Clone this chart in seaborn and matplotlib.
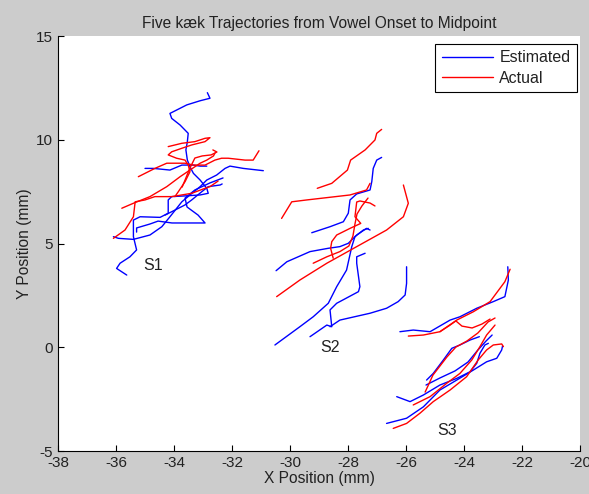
import numpy as np
import pandas as pd
import matplotlib
matplotlib.use('Agg')
import matplotlib.pyplot as plt
import seaborn as sns
from matplotlib.lines import Line2D

# ============================================================
# Trajectory data (mm)
# ============================================================
speakers = ['S1', 'S2', 'S3']
kinds = ['Estimated', 'Actual']

s1_est_x = [
    [-32.85, -32.76, -33.10, -33.56, -34.14, -34.08, -33.79, -33.51, -33.54, -33.59,
     -33.54, -33.45, -33.33, -33.10, -32.87, -32.82, -33.10, -33.68, -34.08, -34.20,
     -34.20, -34.48, -35.17, -35.40, -35.40, -35.29, -35.52, -35.86, -35.98, -35.63],
    [-35.00, -34.71, -34.14, -33.73, -33.33, -33.10, -32.87],
    [-30.92, -31.61, -32.07, -32.24, -32.53, -32.87, -33.10, -33.45, -33.73, -34.14,
     -34.42, -34.83, -35.40, -35.92, -36.09],
    [-35.29, -35.29, -34.83, -34.55, -34.07, -33.38, -32.93, -33.17, -33.55, -33.62,
     -33.28, -32.76, -32.31],
    [-34.31, -33.97, -33.62, -33.39, -33.04, -32.82, -32.41, -32.34],
]
s1_est_y = [
    [12.27, 12.00, 11.88, 11.68, 11.27, 11.03, 10.71, 10.31, 9.91, 9.51,
     9.02, 8.70, 8.38, 8.06, 7.66, 7.42, 7.34, 7.29, 7.26, 7.10,
     6.46, 6.26, 6.29, 6.13, 5.33, 4.69, 4.36, 4.05, 3.80, 3.48],
    [8.62, 8.62, 8.54, 8.78, 8.78, 8.73, 8.73],
    [8.51, 8.62, 8.73, 8.62, 8.30, 8.06, 7.74, 7.34, 7.01, 6.29,
     5.81, 5.41, 5.20, 5.25, 5.33],
    [5.55, 5.75, 5.94, 6.08, 5.99, 5.99, 5.99, 6.37, 6.76, 7.19,
     7.58, 7.92, 8.16],
    [6.37, 6.61, 6.86, 7.10, 7.50, 7.74, 7.82, 7.87],
]
s1_act_x = [
    [-36.09, -35.69, -35.40, -35.34, -35.00, -34.66, -34.08, -33.39, -32.93, -32.76, -32.48],
    [-35.80, -35.40, -34.83, -34.25, -33.79, -33.45, -33.10, -32.87, -32.64, -32.59],
    [-35.23, -34.66, -34.25, -33.62, -33.33, -32.93, -32.59, -32.36, -32.13, -31.55,
     -31.27, -31.07],
    [-34.20, -33.73, -33.28, -32.93, -32.76, -32.93, -33.39, -33.73, -34.08, -34.20,
     -33.91, -33.62, -33.51, -33.45, -33.62, -33.85, -33.97],
    [-33.72, -33.59, -33.45, -33.28, -33.03, -32.72, -32.52, -32.66],
]
s1_act_y = [
    [5.25, 5.65, 6.29, 7.01, 7.10, 7.26, 7.26, 7.42, 7.66, 7.74, 8.01],
    [6.70, 6.94, 7.26, 7.74, 8.22, 8.54, 8.87, 9.02, 9.22, 9.35],
    [8.22, 8.62, 8.87, 8.87, 8.78, 8.78, 9.02, 9.11, 9.11, 9.02,
     9.02, 9.47],
    [9.67, 9.83, 9.91, 10.07, 10.10, 9.91, 9.75, 9.59, 9.42, 9.27,
     9.11, 9.02, 8.78, 8.46, 7.98, 7.50, 7.26],
    [7.72, 8.16, 8.64, 9.12, 9.22, 9.27, 9.41, 9.51],
]

s2_est_x = [
    [-29.25, -28.62, -28.16, -27.99, -27.93, -27.70, -27.24, -27.18, -27.13, -27.01, -26.84],
    [-30.48, -30.11, -29.31, -28.68, -28.28, -27.99, -27.70, -27.36, -27.24],
    [-30.52, -29.66, -29.20, -28.68, -28.39, -28.05, -27.87, -27.76, -27.47, -27.30],
    [-29.31, -28.73, -28.56, -28.62, -28.39, -27.64, -27.59, -27.70, -27.70, -27.41],
    [-28.62, -28.28, -27.24, -26.67, -26.27, -26.03, -25.98, -25.98],
]
s2_est_y = [
    [5.52, 5.81, 6.05, 6.46, 7.10, 7.39, 7.58, 7.98, 8.62, 9.02, 9.15],
    [3.69, 4.12, 4.61, 4.77, 4.85, 5.01, 5.41, 5.73, 5.65],
    [0.11, 0.99, 1.47, 2.12, 2.92, 3.72, 4.85, 5.33, 5.65, 5.73],
    [0.51, 1.07, 0.99, 1.80, 2.12, 2.68, 2.92, 4.05, 4.36, 4.53],
    [0.99, 1.31, 1.64, 1.88, 2.20, 2.52, 3.08, 3.88],
]
s2_act_x = [
    [-29.06, -28.56, -28.02, -27.91, -27.41, -27.07, -27.01, -26.84],
    [-30.29, -29.94, -29.42, -27.93, -27.36, -27.24],
    [-27.07, -27.24, -27.59, -27.70, -27.76, -27.56, -27.93, -28.39, -28.56, -28.60, -28.51],
    [-29.20, -28.73, -28.28, -27.97, -27.83, -27.76, -27.69, -27.52, -27.31],
    [-26.09, -25.92, -26.09, -26.67, -27.70, -28.73, -29.66, -30.46],
]
s2_act_y = [
    [7.66, 7.90, 8.54, 9.02, 9.51, 9.99, 10.31, 10.50],
    [6.21, 7.01, 7.10, 7.34, 7.58, 7.90],
    [6.81, 6.95, 7.05, 7.00, 6.29, 5.97, 5.73, 5.41, 5.09, 4.77, 4.29],
    [4.05, 4.36, 4.61, 4.88, 5.36, 5.94, 6.42, 6.81, 7.19],
    [7.82, 6.94, 6.29, 5.65, 4.85, 4.05, 3.24, 2.44],
]

s3_est_x = [
    [-26.21, -25.75, -25.17, -24.48, -24.14, -23.56, -22.99, -22.59, -22.47, -22.49],
    [-25.29, -25.06, -24.71, -24.42, -24.14, -23.79, -23.47],
    [-26.67, -25.98, -25.40, -24.83, -24.25, -23.68, -23.22, -22.87, -22.70, -22.67],
    [-26.32, -25.86, -25.40, -24.83, -24.25, -23.79, -23.56, -23.45, -23.28, -23.16],
    [-25.31, -24.83, -24.31, -23.86, -23.52, -23.24, -23.03],
]
s3_est_y = [
    [0.75, 0.83, 0.75, 1.31, 1.47, 1.88, 2.20, 2.44, 3.24, 3.88],
    [-1.58, -1.26, -0.61, -0.05, 0.11, 0.35, 0.51],
    [-3.67, -3.42, -2.87, -2.06, -1.58, -1.10, -0.70, -0.53, -0.13, 0.06],
    [-2.38, -2.62, -2.30, -1.82, -1.50, -1.18, -0.77, -0.29, 0.11, 0.19],
    [-1.82, -1.48, -1.14, -0.71, -0.13, 0.30, 0.59],
]
s3_act_x = [
    [-25.92, -25.40, -24.83, -24.25, -23.68, -23.10, -22.59, -22.41],
    [-24.83, -24.50, -24.28, -24.07, -23.72, -23.38, -23.10],
    [-25.34, -25.07, -24.59, -24.28, -23.90, -23.52, -23.17, -22.93],
    [-25.75, -25.17, -24.60, -24.14, -23.73, -23.45, -23.22, -22.93],
    [-26.44, -25.98, -25.52, -25.06, -24.48, -23.91, -23.51, -23.22, -22.99, -22.70, -22.64],
]
s3_act_y = [
    [0.54, 0.59, 0.75, 1.31, 1.71, 2.20, 3.16, 3.76],
    [0.75, 1.05, 1.27, 1.02, 0.93, 1.12, 1.36],
    [-2.16, -1.34, -0.47, 0.01, 0.30, 0.69, 1.22, 1.41],
    [-2.78, -2.38, -1.74, -1.26, -0.61, 0.03, 0.59, 1.07],
    [-3.91, -3.67, -3.18, -2.62, -2.06, -1.42, -0.61, -0.13, 0.11, 0.16, 0.03],
]

label_x = [-34.72, -28.62, -24.59]
label_y = [3.92, 0.01, -3.99]

x_ticks = list(range(-38, -19, 2))
y_ticks = [-5, 0, 5, 10, 15]

# ============================================================
# Long table: one row per point
# ============================================================
series = {
    ('S1', 'Estimated'): (s1_est_x, s1_est_y),
    ('S1', 'Actual'): (s1_act_x, s1_act_y),
    ('S2', 'Estimated'): (s2_est_x, s2_est_y),
    ('S2', 'Actual'): (s2_act_x, s2_act_y),
    ('S3', 'Estimated'): (s3_est_x, s3_est_y),
    ('S3', 'Actual'): (s3_act_x, s3_act_y),
}
rows = []
for (spk, kind), (xs, ys) in series.items():
    for i, (tx, ty) in enumerate(zip(xs, ys)):
        for order, (px, py) in enumerate(zip(tx, ty)):
            rows.append({'speaker': spk, 'kind': kind, 'traj': f'{spk}_{kind}_{i}',
                         'order': order, 'x': px, 'y': py})
df = pd.DataFrame(rows)

# ============================================================
# Figure
# ============================================================
sns.set_style('ticks')
plt.rcParams['font.family'] = ['Liberation Sans', 'DejaVu Sans']
plt.rcParams['axes.unicode_minus'] = False

fig = plt.figure(figsize=(5.89, 4.94), dpi=100, facecolor='#cccccc')
ax = fig.add_axes([0.0985, 0.087, 0.8862, 0.8401])
ax.set_facecolor('white')

sns.lineplot(data=df, x='x', y='y', hue='kind', units='traj', estimator=None,
             sort=False, hue_order=kinds,
             palette={'Estimated': '#0000ff', 'Actual': '#ff0000'},
             linewidth=1.0, legend=False, ax=ax)

for name, lx, ly in zip(speakers, label_x, label_y):
    ax.text(lx, ly, name, ha='center', va='center', fontsize=11.5, color='#222222')

ax.set_xlim(-38, -20)
ax.set_ylim(-5, 15)
ax.set_xticks(x_ticks)
ax.set_yticks(y_ticks)
ax.tick_params(direction='in', length=4, width=0.8, labelsize=11, colors='black',
               labelcolor='#222222')
sns.despine(ax=ax)
for sp in ['left', 'bottom']:
    ax.spines[sp].set_color('black')
    ax.spines[sp].set_linewidth(0.8)

ax.set_title('Five kæk Trajectories from Vowel Onset to Midpoint', fontsize=11.2,
             pad=6, color='#222222')
ax.set_xlabel('X Position (mm)', fontsize=11.2, labelpad=1, color='#222222')
ax.set_ylabel('Y Position (mm)', fontsize=11.2, labelpad=3, color='#222222')

handles = [Line2D([], [], color='#0000ff', lw=1.0), Line2D([], [], color='#ff0000', lw=1.0)]
leg = ax.legend(handles, kinds, loc='upper right', bbox_to_anchor=(0.994, 0.981),
                borderaxespad=0, fontsize=11.5, handlelength=3.2, fancybox=False,
                framealpha=1, edgecolor='black', borderpad=0.4, labelspacing=0.35,
                handletextpad=0.4)
leg.get_frame().set_linewidth(0.8)
for t in leg.get_texts():
    t.set_color('#222222')

plt.savefig('out.png', dpi=100, facecolor=fig.get_facecolor())
plt.close()
